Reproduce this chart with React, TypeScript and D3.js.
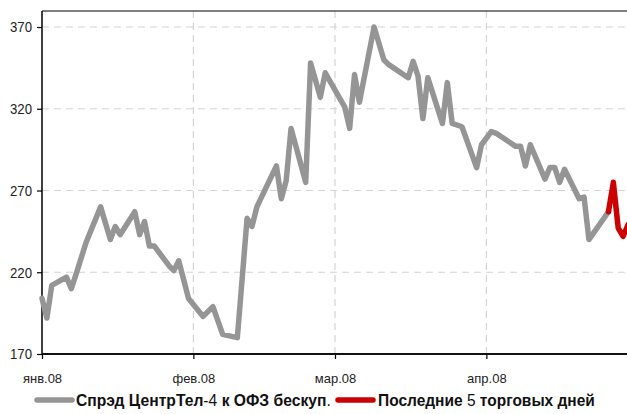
import React, { useEffect, useRef } from 'react';
import * as d3 from 'd3';

const spreadDates = [
  '2008-01-01', '2008-01-02', '2008-01-03', '2008-01-06', '2008-01-07', '2008-01-08', '2008-01-10',
  '2008-01-13', '2008-01-15', '2008-01-16', '2008-01-17', '2008-01-20', '2008-01-21', '2008-01-22',
  '2008-01-23', '2008-01-24', '2008-01-27', '2008-01-28', '2008-01-29', '2008-01-31', '2008-02-03',
  '2008-02-05', '2008-02-07', '2008-02-10', '2008-02-12', '2008-02-13', '2008-02-14', '2008-02-18',
  '2008-02-19', '2008-02-20', '2008-02-21', '2008-02-24', '2008-02-25', '2008-02-27', '2008-02-28',
  '2008-03-03', '2008-03-04', '2008-03-05', '2008-03-06', '2008-03-09', '2008-03-11', '2008-03-12',
  '2008-03-16', '2008-03-17', '2008-03-18', '2008-03-19', '2008-03-20', '2008-03-23', '2008-03-24',
  '2008-03-25', '2008-03-27', '2008-03-30', '2008-03-31', '2008-04-02', '2008-04-03', '2008-04-07',
  '2008-04-08', '2008-04-09', '2008-04-10', '2008-04-13', '2008-04-14', '2008-04-15', '2008-04-16',
  '2008-04-17', '2008-04-20', '2008-04-21', '2008-04-22', '2008-04-26'
];
const spreadValues = [
  204, 192, 212, 217, 210, 219, 238,
  260, 240, 248, 243, 257, 243, 251,
  236, 236, 224, 221, 227, 204, 193,
  199, 182, 180, 253, 248, 260, 285,
  265, 276, 308, 275, 348, 327, 342,
  321, 308, 341, 324, 370, 350, 347,
  339, 349, 340, 314, 339, 311, 336,
  311, 309, 284, 298, 306, 305, 297,
  297, 285, 298, 277, 284, 284, 275,
  283, 265, 266, 240, 257
];

const lastDates = ['2008-04-26', '2008-04-27', '2008-04-28', '2008-04-29', '2008-04-30'];
const lastValues = [257, 275, 247, 242, 249];

const monthTicks = ['2008-01-01', '2008-02-01', '2008-03-01', '2008-04-01'];
const monthLabels = ['янв.08', 'фев.08', 'мар.08', 'апр.08'];
const yTicks = [170, 220, 270, 320, 370];

const FONT = '"Liberation Sans", Arial, sans-serif';

function Chart() {
  const node = useRef<SVGSVGElement | null>(null);

  useEffect(() => {
    const svg = d3.select(node.current);
    svg.selectAll('*').remove();

    const parse = d3.timeParse('%Y-%m-%d');
    const left = 42, right = 628, top = 11, bottom = 354;

    const x = d3.scaleTime()
      .domain([parse('2008-01-01') as Date, parse('2008-04-30') as Date])
      .range([left, right]);
    const y = d3.scaleLinear().domain([170, 379.8]).range([bottom, top]);

    // grid
    svg.append('g')
      .selectAll('line')
      .data(yTicks.slice(1))
      .join('line')
      .attr('x1', left).attr('x2', 627)
      .attr('y1', d => y(d)).attr('y2', d => y(d))
      .attr('stroke', '#d4d4d4').attr('stroke-width', 1.2)
      .attr('stroke-dasharray', '7,5');

    svg.append('g')
      .selectAll('line')
      .data(monthTicks.slice(1))
      .join('line')
      .attr('x1', d => x(parse(d) as Date)).attr('x2', d => x(parse(d) as Date))
      .attr('y1', top).attr('y2', bottom)
      .attr('stroke', '#d4d4d4').attr('stroke-width', 1.2)
      .attr('stroke-dasharray', '7,5');

    // top border
    svg.append('line')
      .attr('x1', left).attr('x2', 627).attr('y1', top).attr('y2', top)
      .attr('stroke', '#555').attr('stroke-width', 1.5);

    // y axis
    const yAxis = d3.axisLeft(y).tickValues(yTicks).tickSize(5).tickFormat(d3.format('d'));
    const yG = svg.append('g').attr('transform', `translate(${left},0)`).call(yAxis);
    yG.select('.domain').remove();
    yG.selectAll('.tick line').attr('stroke', '#000').attr('stroke-width', 1.2);
    yG.selectAll('.tick text')
      .attr('x', -10).attr('font-size', 15).attr('font-family', FONT).attr('fill', '#222')
      .attr('textLength', 22).attr('lengthAdjust', 'spacingAndGlyphs');
    svg.append('line')
      .attr('x1', left).attr('x2', left).attr('y1', top).attr('y2', bottom)
      .attr('stroke', '#000').attr('stroke-width', 1.5);

    // x axis
    const xAxis = d3.axisBottom(x)
      .tickValues(monthTicks.map(d => parse(d) as Date))
      .tickSize(5)
      .tickFormat((d, i) => monthLabels[i]);
    const xG = svg.append('g').attr('transform', `translate(0,${bottom})`).call(xAxis);
    xG.select('.domain').remove();
    xG.selectAll('.tick line').attr('stroke', '#000').attr('stroke-width', 1.2);
    xG.selectAll('.tick text')
      .attr('y', 20).attr('font-size', 13).attr('font-family', FONT).attr('fill', '#222');
    svg.append('line')
      .attr('x1', left).attr('x2', 627).attr('y1', bottom).attr('y2', bottom)
      .attr('stroke', '#111').attr('stroke-width', 2);

    // lines
    const line = d3.line<[string, number]>()
      .x(d => x(parse(d[0]) as Date))
      .y(d => y(d[1]));

    svg.append('path')
      .datum(d3.zip(spreadDates, spreadValues) as [string, number][])
      .attr('d', line)
      .attr('fill', 'none')
      .attr('stroke', '#959595')
      .attr('stroke-width', 5.5)
      .attr('stroke-linejoin', 'round')
      .attr('stroke-linecap', 'round');

    svg.append('path')
      .datum(d3.zip(lastDates, lastValues) as [string, number][])
      .attr('d', line)
      .attr('fill', 'none')
      .attr('stroke', '#cc0000')
      .attr('stroke-width', 5.5)
      .attr('stroke-linejoin', 'round')
      .attr('stroke-linecap', 'round');

    // legend
    const lg = svg.append('g').attr('transform', 'translate(0,400)');
    lg.append('line').attr('x1', 37).attr('x2', 72).attr('y1', 0).attr('y2', 0)
      .attr('stroke', '#959595').attr('stroke-width', 5.5).attr('stroke-linecap', 'round');
    lg.append('line').attr('x1', 338).attr('x2', 373).attr('y1', 0).attr('y2', 0)
      .attr('stroke', '#cc0000').attr('stroke-width', 5.5).attr('stroke-linecap', 'round');

    const parts1: [string, boolean][] = [['Спрэд ЦентрТел', true], ['-4', false], [' к ОФЗ бескуп', true], ['.', false]];
    const parts2: [string, boolean][] = [['Последние ', true], ['5', false], [' торговых дней', true]];

    // shrink the font until the label fits, then stretch it back vertically (condensed look)
    const addText = (xPos: number, len: number, parts: [string, boolean][]) => {
      const base = 16.5;
      const g = lg.append('g');
      const t = g.append('text')
        .attr('x', 0).attr('y', 0)
        .attr('font-size', base).attr('font-family', FONT).attr('fill', '#111')
        .style('white-space', 'pre');
      t.selectAll('tspan')
        .data(parts)
        .join('tspan')
        .attr('font-weight', d => (d[1] ? 'bold' : 'normal'))
        .text(d => d[0]);
      const w = (t.node() as SVGTextElement).getComputedTextLength();
      const k = len / w;
      t.attr('font-size', base * k);
      g.attr('transform', `translate(${xPos},6) scale(1,${1 / k})`);
    };
    addText(76, 255, parts1);
    addText(378, 217, parts2);
  }, []);

  return <svg ref={node} width={627} height={414} style={{ display: 'block' }} />;
}

export default function App() {
  return (
    <div style={{ position: 'absolute', left: 0, top: 0, width: 627, height: 414, background: '#fff' }}>
      <Chart />
    </div>
  );
}
